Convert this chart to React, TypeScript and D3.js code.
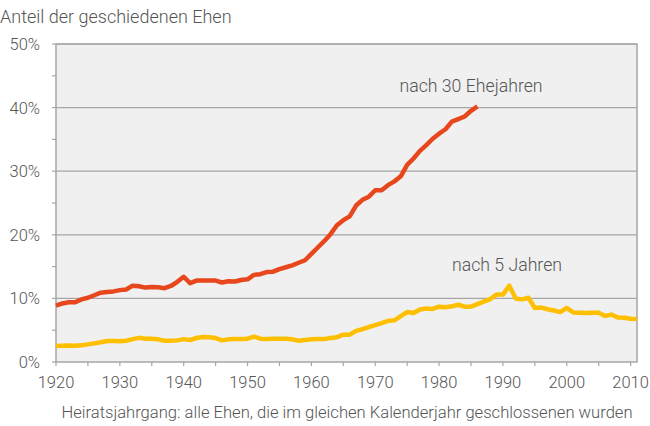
// @ts-nocheck
import { useEffect, useRef } from "react";
import * as d3 from "d3";

const startYear = 1920;
// Anteil geschiedener Ehen nach 30 Ehejahren, Heiratsjahrgänge 1920–1986 (%)
const nach30 = [
  8.85, 9.2, 9.4, 9.4, 9.85, 10.1, 10.5, 10.9, 11.0, 11.1,
  11.3, 11.4, 12.0, 11.9, 11.7, 11.8, 11.75, 11.6, 11.95, 12.6,
  13.4, 12.4, 12.8, 12.8, 12.8, 12.8, 12.5, 12.7, 12.65, 12.9,
  13.0, 13.7, 13.8, 14.15, 14.2, 14.6, 14.9, 15.2, 15.6, 16.0,
  17.0, 18.0, 19.0, 20.1, 21.5, 22.3, 22.9, 24.6, 25.5, 26.0,
  27.0, 27.0, 27.8, 28.4, 29.2, 31.0, 32.0, 33.2, 34.1, 35.1,
  35.9, 36.6, 37.8, 38.2, 38.6, 39.5, 40.2,
];
// nach 5 Jahren, Heiratsjahrgänge 1920–2011 (%)
const nach5 = [
  2.5, 2.55, 2.6, 2.55, 2.65, 2.77, 2.93, 3.1, 3.3, 3.3,
  3.25, 3.35, 3.6, 3.8, 3.67, 3.67, 3.56, 3.35, 3.35, 3.4,
  3.6, 3.46, 3.77, 3.93, 3.88, 3.77, 3.4, 3.56, 3.6, 3.6,
  3.67, 3.98, 3.67, 3.6, 3.67, 3.67, 3.67, 3.56, 3.35, 3.46,
  3.56, 3.6, 3.6, 3.77, 3.9, 4.3, 4.3, 4.9, 5.15, 5.5,
  5.8, 6.1, 6.45, 6.55, 7.2, 7.85, 7.7, 8.25, 8.4, 8.35,
  8.7, 8.6, 8.75, 9.0, 8.7, 8.7, 9.1, 9.5, 9.9, 10.6,
  10.6, 12.0, 10.0, 9.85, 10.1, 8.5, 8.55, 8.3, 8.1, 7.85,
  8.5, 7.8, 7.75, 7.7, 7.75, 7.75, 7.25, 7.45, 7.0, 6.95,
  6.8, 6.75,
];
const yearTicks = [1920, 1930, 1940, 1950, 1960, 1970, 1980, 1990, 2000, 2010];
const pctTicks = [0, 10, 20, 30, 40, 50];

const W = 650;
const H = 426;
const margin = { top: 44, right: 13, bottom: 64, left: 56 };
const font = "Roboto, sans-serif";
const textColor = "#555";

export default function App() {
  const svgRef = useRef<SVGSVGElement>(null);

  useEffect(() => {
    const svg = d3.select(svgRef.current);
    svg.selectAll("*").remove();

    const x = d3.scaleLinear([1920, 2011], [margin.left, W - margin.right]);
    const y = d3.scaleLinear([0, 50], [H - margin.bottom, margin.top]);

    svg.append("rect")
      .attr("x", margin.left).attr("y", margin.top)
      .attr("width", W - margin.left - margin.right)
      .attr("height", H - margin.top - margin.bottom)
      .attr("fill", "#f0f0f0")
      .attr("stroke", "#a6a6a6").attr("stroke-width", 1.5);

    // gridlines
    svg.append("g").selectAll("line").data(pctTicks.slice(1)).join("line")
      .attr("x1", margin.left).attr("x2", W - margin.right)
      .attr("y1", d => y(d)).attr("y2", d => y(d))
      .attr("stroke", "#a6a6a6").attr("stroke-width", 1.2);

    // y axis ticks (every 5%)
    svg.append("g").selectAll("line").data(d3.range(0, 51, 5)).join("line")
      .attr("x1", margin.left - 4).attr("x2", margin.left)
      .attr("y1", d => y(d)).attr("y2", d => y(d))
      .attr("stroke", "#a6a6a6").attr("stroke-width", 1.2);

    // x axis ticks (every 5 years)
    svg.append("g").selectAll("line").data(d3.range(1920, 2011, 5)).join("line")
      .attr("x1", d => x(d)).attr("x2", d => x(d))
      .attr("y1", y(0)).attr("y2", y(0) + 4)
      .attr("stroke", "#a6a6a6").attr("stroke-width", 1.2);

    const line = d3.line<number>()
      .x((_, i) => x(startYear + i))
      .y(d => y(d))
      .curve(d3.curveLinear);

    svg.append("path").attr("d", line(nach5))
      .attr("fill", "none").attr("stroke", "#fdbf00")
      .attr("stroke-width", 4.5).attr("stroke-linejoin", "round");
    svg.append("path").attr("d", line(nach30))
      .attr("fill", "none").attr("stroke", "#e8461c")
      .attr("stroke-width", 4.5).attr("stroke-linejoin", "round");

    const label = (tx, ty, s, anchor = "start", size = 16) =>
      svg.append("text").attr("x", tx).attr("y", ty)
        .attr("text-anchor", anchor)
        .attr("font-family", font).attr("font-weight", 300)
        .attr("font-size", size).attr("fill", textColor)
        .text(s);

    // tick labels
    pctTicks.forEach(d => label(40, y(d) + 6, d + "%", "end", 16.5));
    yearTicks.forEach(d => label(x(d), 388, String(d), "middle", 16.5));

    label(0, 23, "Anteil der geschiedenen Ehen", "start", 18);
    label(347, 418, "Heiratsjahrgang: alle Ehen, die im gleichen Kalenderjahr geschlossenen wurden", "middle", 16.6);
    label(471, 92, "nach 30 Ehejahren", "middle", 17.7);
    label(507, 271, "nach 5 Jahren", "middle", 17.7);
  }, []);

  return (
    <svg ref={svgRef} width={W} height={H}
      style={{ position: "absolute", left: 0, top: 0, background: "#fff" }} />
  );
}
